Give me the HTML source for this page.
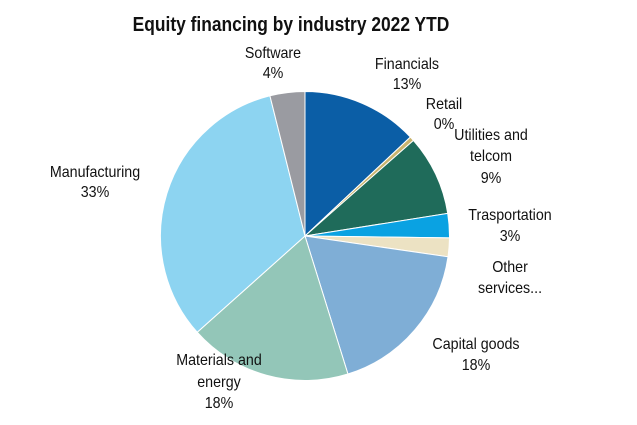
<!DOCTYPE html>
<html><head><meta charset="utf-8"><style>
html,body{margin:0;padding:0;background:#fff;width:637px;height:425px;overflow:hidden}
svg text{font-family:"Liberation Sans Narrow","Liberation Sans",sans-serif;fill:#111;transform-box:fill-box;transform-origin:center}
.l text{font-size:15.5px;transform:scaleX(0.92)}
.t{font-size:20px;font-weight:bold;transform:scaleX(0.87)}
</style></head><body>
<svg id="s" width="637" height="425" viewBox="0 0 637 425" xmlns="http://www.w3.org/2000/svg">
<g id="p"></g>
<text class="t" x="291" y="31" text-anchor="middle">Equity financing by industry 2022 YTD</text>
<g class="l" text-anchor="middle">
<text x="273" y="58">Software</text><text x="273" y="78">4%</text>
<text x="407" y="69">Financials</text><text x="407" y="89">13%</text>
<text x="444" y="109">Retail</text><text x="444" y="129">0%</text>
<text x="491" y="140">Utilities and</text><text x="491" y="161">telcom</text><text x="491" y="183">9%</text>
<text x="510" y="220">Trasportation</text><text x="510" y="241">3%</text>
<text x="510" y="272">Other</text><text x="510" y="293">services...</text>
<text x="476" y="349">Capital goods</text><text x="476" y="370">18%</text>
<text x="219" y="365">Materials and</text><text x="219" y="387">energy</text><text x="219" y="408">18%</text>
<text x="95" y="177">Manufacturing</text><text x="95" y="197">33%</text>
</g>
</svg>
<script>
var cx=305,cy=236,r=144.5;
var d=[[13,"#0b5ea6"],[0.5,"#c9b46e"],[9,"#1f6b5a"],[2.7,"#0aa2e2"],[2.1,"#ece2c3"],[17.9,"#7faed6"],[18.2,"#93c6b8"],[32.7,"#8dd4f1"],[3.9,"#9a9ba1"]];
var tot=0;d.forEach(function(x){tot+=x[0]});
var a=0,g=document.getElementById("p"),h="";
d.forEach(function(x){
 var a1=a+x[0]/tot*2*Math.PI;
 var p=function(t){return (cx+r*Math.sin(t)).toFixed(2)+","+(cy-r*Math.cos(t)).toFixed(2)};
 h+='<path d="M'+cx+','+cy+' L'+p(a)+' A'+r+','+r+' 0 '+((a1-a)>Math.PI?1:0)+' 1 '+p(a1)+' Z" fill="'+x[1]+'" stroke="#fff" stroke-width="1"/>';
 a=a1;});
g.innerHTML=h;
</script>
</body></html>
